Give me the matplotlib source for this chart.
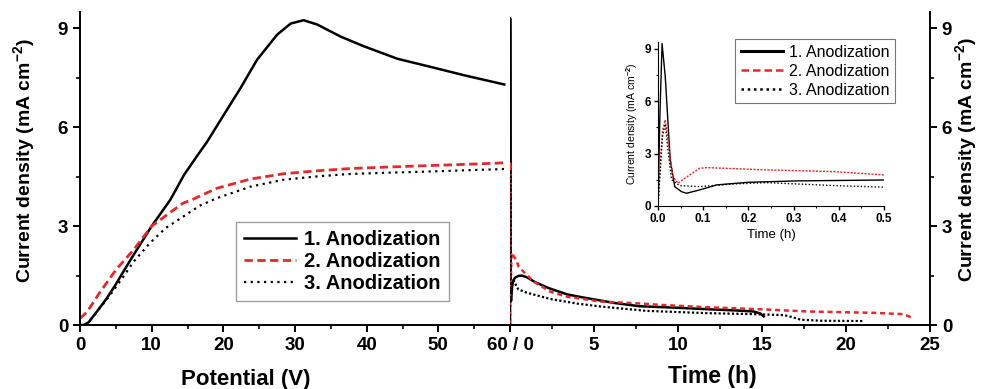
import numpy as np
import matplotlib
matplotlib.use("Agg")
import matplotlib.pyplot as plt
from matplotlib.ticker import MultipleLocator, FixedLocator, FixedFormatter

plt.rcParams['font.family'] = ['Liberation Sans', 'DejaVu Sans']
plt.rcParams['font.weight'] = 'bold'
plt.rcParams['mathtext.fontset'] = 'custom'
plt.rcParams['mathtext.rm'] = 'Liberation Sans:bold'
plt.rcParams['mathtext.bf'] = 'Liberation Sans:bold'
plt.rcParams['mathtext.default'] = 'bf'

RED = '#e2292b'

# potential sweep (V vs mA cm-2)
V1 = [0, 0.5, 1.2, 2.5, 3.7, 4.9, 6.0, 7.4, 10, 12.6, 14.5, 16.3, 17.7, 20.5, 22.4,
      24.7, 27.5, 29.4, 31.2, 33.1, 36.4, 39.6, 44.3, 49.0, 53.6, 59.2]
j1 = [0, 0, 0.08, 0.45, 0.8, 1.2, 1.6, 2.1, 3.0, 3.8, 4.55, 5.12, 5.55, 6.53, 7.19,
      8.05, 8.81, 9.15, 9.25, 9.12, 8.75, 8.46, 8.08, 7.83, 7.58, 7.3]
V2 = [0, 1, 2.8, 5.1, 7.4, 10, 12.6, 14.4, 15.8, 19.1, 23.8, 28.4, 33.1, 37.8,
      42.5, 47.6, 53, 58, 59.5]
j2 = [0.2, 0.4, 1.0, 1.7, 2.26, 3.0, 3.42, 3.7, 3.82, 4.15, 4.43, 4.59, 4.68, 4.75,
      4.79, 4.83, 4.87, 4.91, 4.93]
V3 = [0.8, 2, 4, 6, 7.4, 9.8, 12, 14.4, 16.7, 19.1, 23.8, 28.4, 33.1, 37.3, 42.5,
      47.6, 53, 58.7, 59.5]
j3 = [0, 0.3, 0.85, 1.45, 1.9, 2.5, 2.95, 3.29, 3.62, 3.85, 4.2, 4.41, 4.51, 4.58,
      4.62, 4.65, 4.69, 4.73, 4.74]

# potentiostatic part (h vs mA cm-2)
t1 = [0, 0.004, 0.009, 0.016, 0.027, 0.037, 0.052, 0.063, 0.092, 0.13, 0.2, 0.31,
      0.5, 0.7, 1.0, 1.5, 2.3, 3.4, 4.3, 6.2, 7.7, 10.1, 11.7, 13.5, 14.5, 14.9, 15.1]
k1 = [0, 5.0, 9.31, 7.43, 2.64, 1.11, 0.82, 0.73, 0.92, 1.21, 1.36, 1.44,
      1.49, 1.5, 1.45, 1.3, 1.12, 0.93, 0.84, 0.67, 0.57, 0.52, 0.48, 0.44, 0.41, 0.35, 0.26]
t2 = [0, 0.005, 0.01, 0.016, 0.025, 0.033, 0.044, 0.06, 0.092, 0.107, 0.24, 0.39,
      0.5, 0.6, 1.4, 2.4, 3.4, 5.4, 7.5, 9.0, 11.7, 14.8, 17.7, 21.6, 23.4, 23.9]
k2 = [0, 2.5, 4.3, 4.94, 3.2, 1.69, 1.3, 1.6, 2.16, 2.2, 2.07, 1.97,
      1.78, 1.72, 1.32, 1.01, 0.86, 0.71, 0.66, 0.61, 0.54, 0.48, 0.41, 0.37, 0.33, 0.23]
t3 = [0, 0.005, 0.01, 0.016, 0.022, 0.03, 0.048, 0.092, 0.166, 0.24, 0.39, 0.5,
      1.0, 2.4, 4.0, 5.4, 8.1, 11.7, 14.5, 16.3, 16.8, 17.3, 18.5, 21]
k3 = [0, 2.0, 4.0, 4.7, 3.2, 1.5, 1.17, 1.11, 1.26, 1.34, 1.17, 1.08,
      0.98, 0.79, 0.65, 0.56, 0.43, 0.36, 0.33, 0.3, 0.24, 0.16, 0.13, 0.12]

labels = ['1. Anodization', '2. Anodization', '3. Anodization']

fig = plt.figure(figsize=(9.82, 3.89), dpi=100)
axL = fig.add_axes([80/982, 1-325/389, 430/982, 313/389])
axR = fig.add_axes([510/982, 1-325/389, 420/982, 313/389])

solid = dict(color='black', lw=1.8, ls='-')
dash = dict(color=RED, lw=2.0, ls=(0, (3, 1.6)))
dot = dict(color='black', lw=1.6, ls=(0, (1, 2)))

axL.plot(V1, j1, label=labels[0], **solid)
axL.plot(V2, j2, label=labels[1], **dash)
axL.plot(V3, j3, label=labels[2], **dot)

axR.plot(t1, k1, **solid)
axR.plot(t2, k2, color=RED, lw=1.8, ls=(0, (2, 1.5)))
axR.plot(t3, k3, color='black', lw=1.6, ls=(0, (1, 1)))

for ax in (axL, axR):
    ax.set_ylim(0, 9.5)
    ax.spines['top'].set_visible(False)
    for s in ax.spines.values():
        s.set_linewidth(1.4)
    ax.yaxis.set_major_locator(MultipleLocator(3))
    ax.yaxis.set_minor_locator(MultipleLocator(1.5))
    ax.tick_params(which='major', direction='out', length=5, width=1.4, labelsize=13.5)
    ax.tick_params(which='minor', direction='out', length=3, width=1.2)
    ax.patch.set_alpha(0)

axL.spines['right'].set_visible(False)
axL.set_xlim(0, 60)
axL.xaxis.set_major_locator(FixedLocator([0, 10, 20, 30, 40, 50, 60]))
axL.xaxis.set_major_formatter(FixedFormatter(['0', '10', '20', '30', '40', '50', '']))
axL.xaxis.set_minor_locator(MultipleLocator(5))

axR.spines['left'].set_visible(False)
axR.set_xlim(0, 25)
axR.yaxis.tick_right()
axR.tick_params(axis='y', which='both', left=False)
axR.xaxis.set_major_locator(FixedLocator([0, 5, 10, 15, 20, 25]))
axR.xaxis.set_major_formatter(FixedFormatter(['60 / 0', '5', '10', '15', '20', '25']))
axR.xaxis.set_minor_locator(MultipleLocator(2.5))

ylab = 'Current density (mA cm$^{-2}$)'
fig.text(24/982, 1-161/389, ylab, rotation=90, ha='center', va='center', fontsize=14)
fig.text(966/982, 1-160/389, ylab, rotation=90, ha='center', va='center', fontsize=14)
fig.text(246/982, 1-379/389, 'Potential (V)', ha='center', va='center', fontsize=16)
fig.text(712/982, 1-377/389, 'Time (h)', ha='center', va='center', fontsize=16.5)

leg = axL.legend(loc='upper left', bbox_to_anchor=(236/982, 1-222/389),
                 bbox_transform=fig.transFigure, fancybox=False, edgecolor='#888888',
                 prop={'weight': 'bold', 'size': 14.5}, handlelength=2.6,
                 labelspacing=0.15, borderpad=0.4, handletextpad=0.4, borderaxespad=0)
leg.get_frame().set_linewidth(1.0)

# inset
axI = fig.add_axes([658/982, 1-206/389, 226/982, 164/389])
axI.plot(t1, k1, color='black', lw=1.0, label=labels[0])
axI.plot(t2, k2, color=RED, lw=1.0, ls=(0, (1.5, 1)), label=labels[1])
axI.plot(t3, k3, color='black', lw=1.0, ls=(0, (1, 1.5)), label=labels[2])
axI.set_xlim(0, 0.5)
axI.set_ylim(0, 9.4)
axI.spines['top'].set_visible(False)
axI.spines['right'].set_visible(False)
axI.xaxis.set_major_locator(MultipleLocator(0.1))
axI.xaxis.set_minor_locator(MultipleLocator(0.05))
axI.xaxis.set_major_formatter(plt.FormatStrFormatter('%.1f'))
axI.yaxis.set_major_locator(MultipleLocator(3))
axI.yaxis.set_minor_locator(MultipleLocator(1.5))
axI.tick_params(which='major', direction='out', length=3, width=1, labelsize=8.5, pad=2)
axI.tick_params(which='minor', direction='out', length=1.5, width=0.8)
axI.set_xlabel('Time (h)', fontsize=9.5, labelpad=3)
axI.set_ylabel(ylab, fontsize=7.5, labelpad=3)

handles = [plt.Line2D([], [], color='black', lw=2.2),
           plt.Line2D([], [], color=RED, lw=1.8, ls=(0, (3, 1.6))),
           plt.Line2D([], [], color='black', lw=1.8, ls=(0, (1, 1.5)))]
legI = axI.legend(handles, labels, loc='upper right', bbox_to_anchor=(895/982, 1-39/389),
                  bbox_transform=fig.transFigure, fancybox=False, edgecolor='#555555',
                  prop={'weight': 'normal', 'size': 11.5}, handlelength=2.6,
                  labelspacing=0.25, borderpad=0.35, handletextpad=0.4, borderaxespad=0)
legI.get_frame().set_linewidth(0.8)

fig.savefig('out.png', dpi=100)
